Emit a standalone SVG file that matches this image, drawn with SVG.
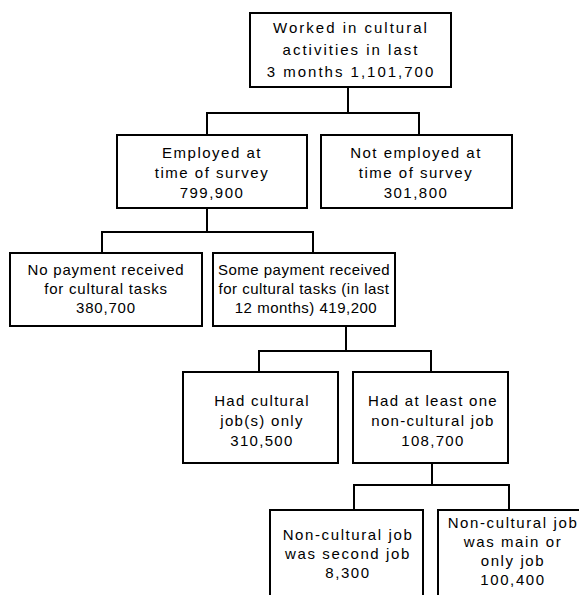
<svg xmlns="http://www.w3.org/2000/svg" width="579" height="595" viewBox="0 0 579 595">
<style>
.box{fill:#fff;stroke:#000;stroke-width:2}
.c{fill:none;stroke:#000;stroke-width:2}
text{font-family:"Liberation Sans",Arial,sans-serif;font-size:15px;fill:#000;text-anchor:middle;letter-spacing:1px}
.w2 text{letter-spacing:2px}
.w15 text{letter-spacing:1.5px}
.w13 text{letter-spacing:1.3px}
.w08 text{letter-spacing:0.8px}
.w05 text{letter-spacing:0.5px}
.w16 text{letter-spacing:1.6px}
</style>
<rect width="579" height="595" fill="#fff"/>
<g id="connectors">
<path class="c" d="M348 87V113M207 113H419M207 112V135M419 112V135"/>
<path class="c" d="M207 208V232M102 232H313M102 231V253M313 231V253"/>
<path class="c" d="M346 326V351M259 351H431M259 350V372M431 350V372"/>
<path class="c" d="M432 463V485M354 485H509M354 484V510M509 484V510"/>
</g>
<g id="n1" class="w2"><rect class="box" x="250" y="13" width="201" height="74"/>
<text x="351" y="33">Worked in cultural</text><text x="351" y="55">activities in last</text><text x="351" y="77">3 months 1,101,700</text></g>
<g id="n2" class="w15"><rect class="box" x="117" y="135" width="190" height="73"/>
<text x="212" y="158">Employed at</text><text x="212" y="178">time of survey</text><text x="212" y="198">799,900</text></g>
<g id="n3" class="w15"><rect class="box" x="321" y="135" width="191" height="73"/>
<text x="416" y="158">Not employed at</text><text x="416" y="178">time of survey</text><text x="416" y="198">301,800</text></g>
<g id="n4" class="w08"><rect class="box" x="10" y="253" width="192" height="73"/>
<text x="106" y="275">No payment received</text><text x="106" y="294">for cultural tasks</text><text x="106" y="313">380,700</text></g>
<g id="n5" class="w05"><rect class="box" x="213" y="253" width="182" height="73"/>
<text x="304" y="275">Some payment received</text><text x="304" y="294">for cultural tasks (in last</text><text x="306" y="313">12 months) 419,200</text></g>
<g id="n6" class="w13"><rect class="box" x="183" y="372" width="155" height="91"/>
<text x="262" y="406">Had cultural</text><text x="262" y="426">job(s) only</text><text x="262" y="446">310,500</text></g>
<g id="n7" class="w13"><rect class="box" x="353" y="372" width="155" height="91"/>
<text x="433" y="406">Had at least one</text><text x="433" y="426">non-cultural job</text><text x="433" y="446">108,700</text></g>
<g id="n8" class="w16"><rect class="box" x="270" y="510" width="153" height="95"/>
<text x="348" y="540">Non-cultural job</text><text x="348" y="559">was second job</text><text x="348" y="578">8,300</text></g>
<g id="n9" class="w16"><rect class="box" x="438" y="510" width="150" height="95"/>
<text x="513" y="528">Non-cultural job</text><text x="513" y="547">was main or</text><text x="513" y="566">only job</text><text x="513" y="585">100,400</text></g>
</svg>
